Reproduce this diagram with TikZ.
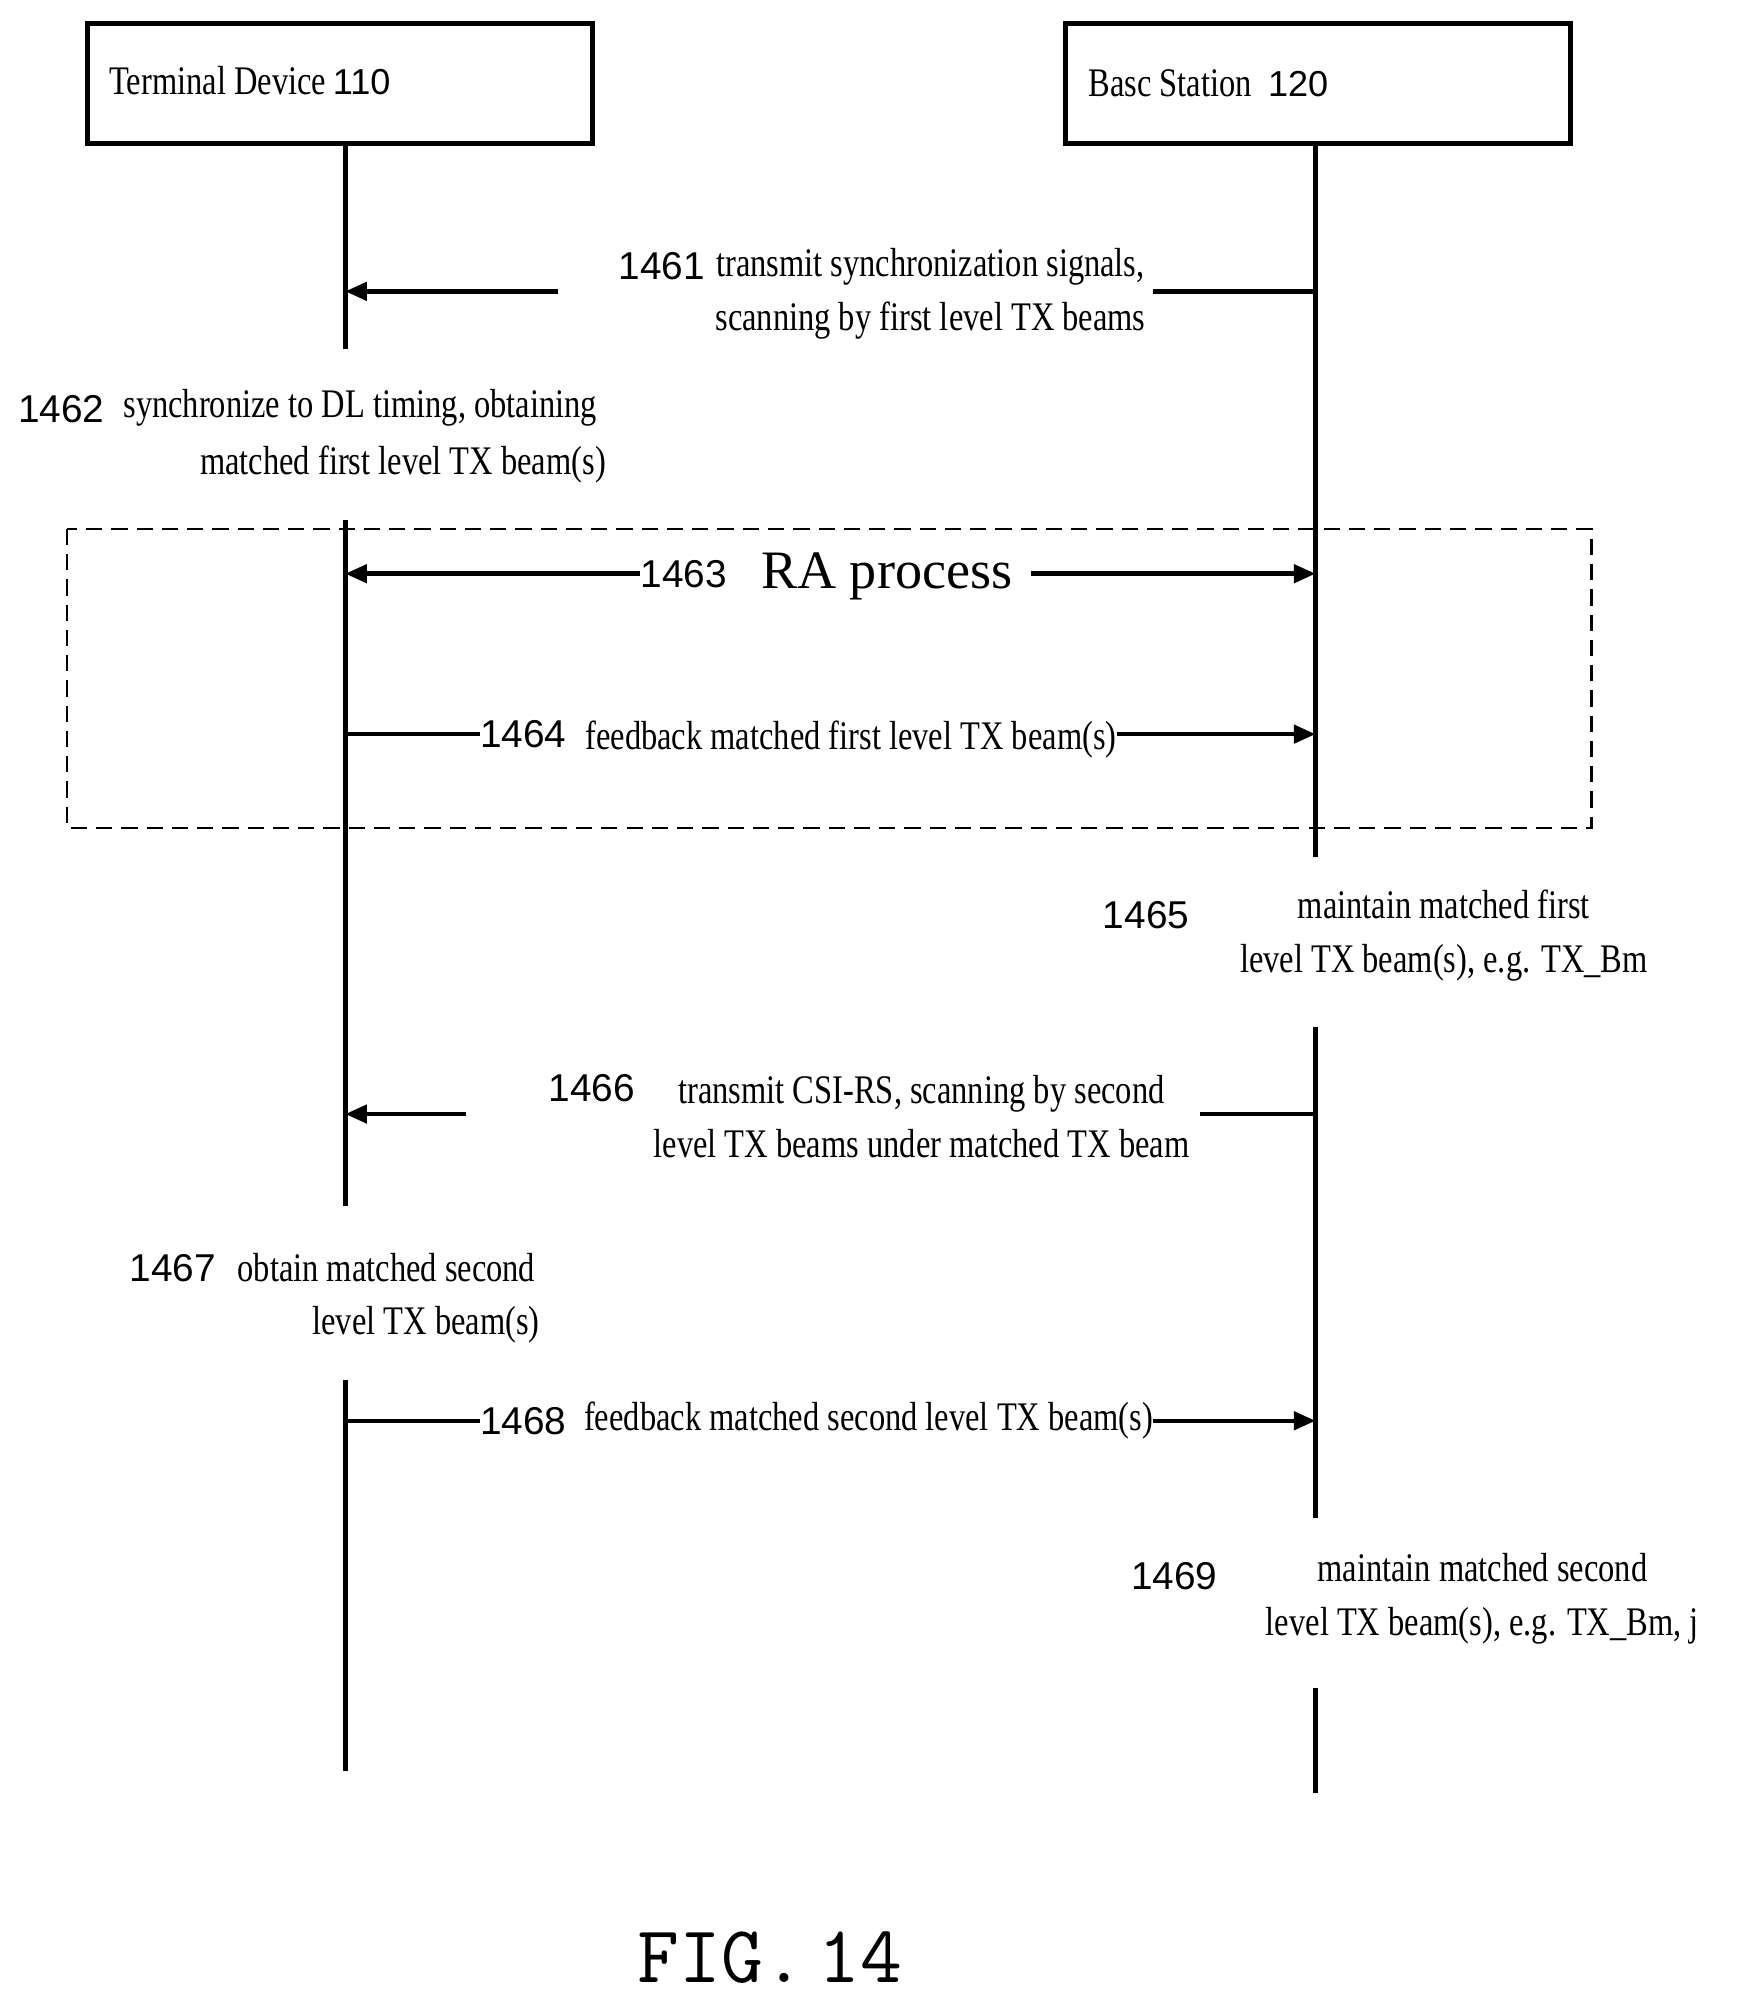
\documentclass[tikz,border=0pt]{standalone}
\usepackage{fontspec}
\setmainfont{Liberation Serif}
\newfontfamily\cond[FakeStretch=0.8]{Liberation Serif}
\newfontfamily\numf{Liberation Sans}
\usetikzlibrary{arrows.meta}
\begin{document}
\begin{tikzpicture}[x=0.05cm,y=-0.05cm,
  life/.style={line width=5pt},
  msg/.style={line width=5pt},
  arr/.style={-{Triangle[length=24pt,width=20pt]}},
  box/.style={draw,line width=5.5pt,minimum width=394*0.05cm,minimum height=94*0.05cm},
  txt/.style={font=\fontsize{45}{60}\selectfont\cond,inner sep=0,align=center},
  num/.style={font=\fontsize{43}{50}\selectfont\numf,inner sep=0}]
\useasboundingbox (0,0) rectangle (1360,1570);
\node[box] (td) at (265,65) {};
\node[box] (bs) at (1027,65) {};
\node[txt,anchor=west] (tdl) at (85,63) {Terminal Device\,{\numf\fontsize{40}{50}\selectfont 110}};
\node[txt,anchor=west] (bsl) at (848,65) {Basc Station\ \ {\numf\fontsize{40}{50}\selectfont 120}};
% lifelines
\coordinate (t0) at (269,112); \coordinate (t1) at (269,272);
\coordinate (t2) at (269,405); \coordinate (t3) at (269,940);
\coordinate (t4) at (269,1075); \coordinate (t5) at (269,1380);
\coordinate (b0) at (1025,112); \coordinate (b1) at (1025,668);
\coordinate (b2) at (1025,800); \coordinate (b3) at (1025,1183);
\coordinate (b4) at (1025,1315); \coordinate (b5) at (1025,1397);
\draw[life] (t0)--(t1) (t2)--(t3) (t4)--(t5) (b0)--(b1) (b2)--(b3) (b4)--(b5);
% dashed box
\draw[dashed,dash pattern=on 18pt off 10pt,line width=2.5pt] (52,412) rectangle (1240,645);
% 1461
\node[num,anchor=west] (n1461) at (482,207) {1461};
\node[txt] (m1461) at (725,229) {transmit synchronization signals,\\scanning by first level TX beams};
\coordinate (a1) at (1025,227); \coordinate (a1b) at (898,227);
\coordinate (a1c) at (435,227); \coordinate (a1d) at (269,227);
\draw[msg] (a1)--(a1b); \draw[msg,arr] (a1c)--(a1d);
% 1462
\node[num,anchor=west] (n1462) at (14,319) {1462};
\node[txt,anchor=west] (m1462a) at (96,318) {synchronize to DL timing, obtaining};
\node[txt] (m1462b) at (314,362) {matched first level TX beam(s)};
% 1463
\coordinate (a3l) at (269,447); \coordinate (a3r) at (1025,447);
\node[num,anchor=west] (n1463) at (499,447) {1463};
\node[anchor=west,inner sep=0,font=\fontsize{60}{60}\selectfont] (m1463) at (593,449) {RA process};
\draw[msg,arr] (n1463.west |- a3l)--(a3l);
\coordinate (a3m) at (803,447);
\draw[msg,arr] (a3m)--(a3r);
% 1464
\coordinate (a4l) at (269,572); \coordinate (a4r) at (1025,572);
\node[num,anchor=west] (n1464) at (374,572) {1464};
\node[txt,anchor=west] (m1464) at (456,576) {feedback matched first level TX beam(s)};
\draw[msg] (a4l)--(n1464.west |- a4l);
\draw[msg,arr] (m1464.east |- a4r)--(a4r);
% 1465
\node[num] (n1465) at (893,713) {1465};
\node[txt] (m1465) at (1125,729) {maintain matched first\\level TX beam(s), e.g. TX\_Bm};
% 1466
\node[num] (n1466) at (461,848) {1466};
\node[txt] (m1466) at (718,870) {transmit CSI-RS, scanning by second\\level TX beams under matched TX beam};
\coordinate (a6r) at (1025,868); \coordinate (a6b) at (935,868);
\coordinate (a6c) at (363,868); \coordinate (a6l) at (269,868);
\draw[msg] (a6r)--(a6b); \draw[msg,arr] (a6c)--(a6l);
% 1467
\node[num,anchor=west] (n1467) at (101,988) {1467};
\node[txt,anchor=west] (m1467a) at (185,988) {obtain matched second};
\node[txt] (m1467b) at (332,1032) {level TX beam(s)};
% 1468
\coordinate (a8l) at (269,1107); \coordinate (a8r) at (1025,1107);
\node[num,anchor=west] (n1468) at (374,1107) {1468};
\node[txt,anchor=west] (m1468) at (455,1107) {feedback matched second level TX beam(s)};
\draw[msg] (a8l)--(n1468.west |- a8l);
\draw[msg,arr] (m1468.east |- a8r)--(a8r);
% 1469
\node[num] (n1469) at (915,1228) {1469};
\node[txt] (m1469) at (1155,1246) {maintain matched second\\level TX beam(s), e.g. TX\_Bm, j};
% fig
\node[inner sep=0,font=\fontsize{90}{90}\selectfont\ttfamily] (fig) at (600,1525) {FIG.\,14};
\end{tikzpicture}
\end{document}
